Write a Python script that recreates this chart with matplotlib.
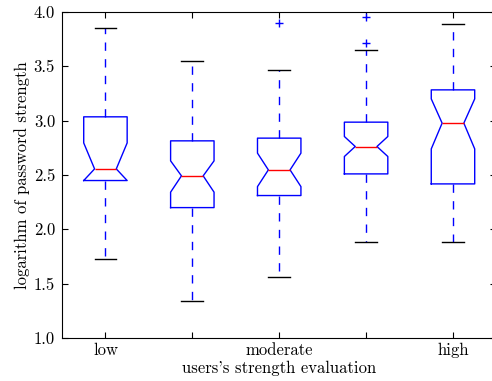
import matplotlib
matplotlib.use("Agg")
import matplotlib.pyplot as plt

# valeurs (log de la force du mot de passe)
labels = ["low", "", "moderate", "", "high"]
med = [2.555, 2.491, 2.546, 2.761, 2.976]
q1 = [2.448, 2.199, 2.310, 2.509, 2.417]
q3 = [3.034, 2.813, 2.838, 2.985, 3.282]
cilo = [2.448, 2.341, 2.392, 2.669, 2.739]
cihi = [2.794, 2.629, 2.700, 2.853, 3.199]
whislo = [1.730, 1.343, 1.558, 1.886, 1.881]
whishi = [3.853, 3.549, 3.466, 3.650, 3.887]
fliers = [[], [], [3.896], [3.717, 3.951], []]

plt.rcParams['font.family'] = 'cmr10'
plt.rcParams['axes.formatter.use_mathtext'] = True
plt.rcParams['font.size'] = 12

stats = []
for i in range(len(med)):
    stats.append(dict(med=med[i], q1=q1[i], q3=q3[i], cilo=cilo[i], cihi=cihi[i],
                      whislo=whislo[i], whishi=whishi[i], fliers=fliers[i]))

fig = plt.figure(figsize=(4.92, 3.81), dpi=100)
# l'axe dépasse un peu à droite (image rognée dans l'original)
ax = fig.add_axes([0.126, 0.113, 0.883, 0.856])

ax.bxp(stats, positions=range(1, 6), widths=0.5, shownotches=True,
       boxprops=dict(color='b', linewidth=1.0),
       whiskerprops=dict(color='b', linestyle='--', linewidth=1.0, dashes=(6, 6)),
       capprops=dict(color='k', linewidth=1.0),
       medianprops=dict(color='r', linewidth=1.0),
       flierprops=dict(marker='+', markeredgecolor='b', markersize=6, linestyle='none'))

ax.set_xlim(0.5, 5.5)
ax.set_ylim(1.0, 4.0)
ax.set_xticks(range(1, 6))
ax.set_xticklabels(labels)
ax.set_yticks([1.0, 1.5, 2.0, 2.5, 3.0, 3.5, 4.0])
ax.set_yticklabels(["%.1f" % v for v in [1.0, 1.5, 2.0, 2.5, 3.0, 3.5, 4.0]])
ax.tick_params(direction='in', length=4, top=True, right=True, colors='k')
ax.tick_params(axis='x', pad=3.5)
ax.tick_params(axis='y', pad=5)
ax.set_xlabel("users's strength evaluation", labelpad=2)
ax.set_ylabel("logarithm of password strength", labelpad=3)

fig.savefig("out.png", dpi=100)
